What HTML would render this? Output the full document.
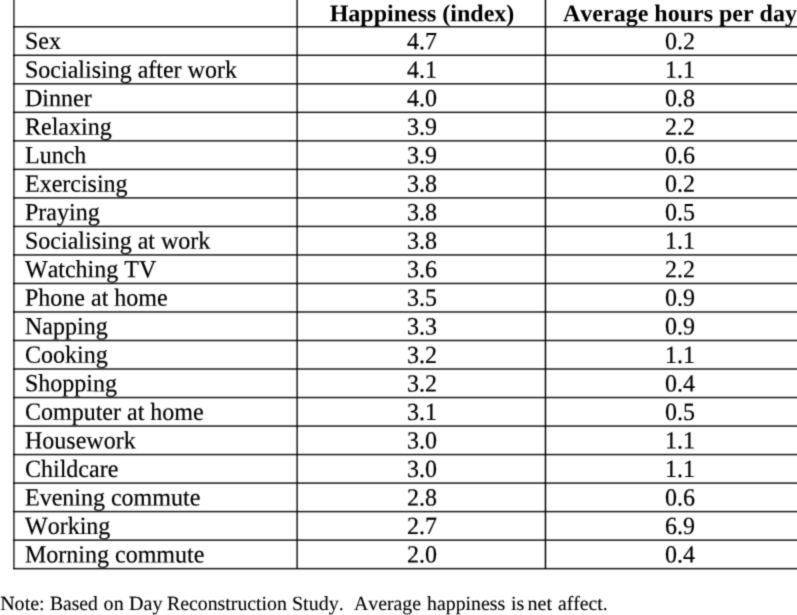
<!DOCTYPE html>
<html><head><meta charset="utf-8"><title>Happiness by activity</title><style>
html,body{margin:0;padding:0;background:#fff;}
body{width:797px;height:615px;overflow:hidden;position:relative;font-family:"Liberation Serif",serif;color:#000;text-rendering:geometricPrecision;font-kerning:none;font-feature-settings:"kern" 0,"liga" 0;}
#w{position:absolute;left:0;top:0;width:797px;height:615px;will-change:transform;background:#fff;filter:url(#sb);}
.l{position:absolute;}
.t{position:absolute;white-space:pre;font-size:24px;line-height:24px;transform-origin:0 0;-webkit-text-stroke:0.2px #000;}
.c{text-align:center;width:300px;}
.b{font-weight:bold;-webkit-text-stroke:0;}
.n{position:absolute;white-space:pre;font-size:20.07px;line-height:20.07px;-webkit-text-stroke:0.12px #000;}
</style></head><body><svg width="0" height="0" style="position:absolute"><defs><filter id="sb" x="0" y="0" width="100%" height="100%" color-interpolation-filters="sRGB"><feConvolveMatrix order="3" kernelMatrix="0.0249 0.1080 0.0249 0.1080 0.4686 0.1080 0.0249 0.1080 0.0249" divisor="1" edgeMode="duplicate"/></filter></defs></svg><div id="w">

<div class="l" style="left:13px;width:807px;top:26px;height:2px;background:linear-gradient(to bottom,rgba(0,0,0,0.883) 0px 1px,rgba(0,0,0,0.469) 1px 2px)"></div>
<div class="l" style="left:13px;width:807px;top:54px;height:3px;background:linear-gradient(to bottom,rgba(0,0,0,0.415) 0px 1px,rgba(0,0,0,0.900) 1px 2px,rgba(0,0,0,0.037) 2px 3px)"></div>
<div class="l" style="left:13px;width:807px;top:83px;height:2px;background:linear-gradient(to bottom,rgba(0,0,0,0.846) 0px 1px,rgba(0,0,0,0.505) 1px 2px)"></div>
<div class="l" style="left:13px;width:807px;top:111px;height:3px;background:linear-gradient(to bottom,rgba(0,0,0,0.378) 0px 1px,rgba(0,0,0,0.900) 1px 2px,rgba(0,0,0,0.073) 2px 3px)"></div>
<div class="l" style="left:13px;width:807px;top:140px;height:2px;background:linear-gradient(to bottom,rgba(0,0,0,0.811) 0px 1px,rgba(0,0,0,0.540) 1px 2px)"></div>
<div class="l" style="left:13px;width:807px;top:168px;height:3px;background:linear-gradient(to bottom,rgba(0,0,0,0.342) 0px 1px,rgba(0,0,0,0.900) 1px 2px,rgba(0,0,0,0.108) 2px 3px)"></div>
<div class="l" style="left:13px;width:807px;top:197px;height:2px;background:linear-gradient(to bottom,rgba(0,0,0,0.773) 0px 1px,rgba(0,0,0,0.577) 1px 2px)"></div>
<div class="l" style="left:13px;width:807px;top:225px;height:3px;background:linear-gradient(to bottom,rgba(0,0,0,0.307) 0px 1px,rgba(0,0,0,0.900) 1px 2px,rgba(0,0,0,0.145) 2px 3px)"></div>
<div class="l" style="left:13px;width:807px;top:254px;height:2px;background:linear-gradient(to bottom,rgba(0,0,0,0.738) 0px 1px,rgba(0,0,0,0.613) 1px 2px)"></div>
<div class="l" style="left:13px;width:807px;top:282px;height:3px;background:linear-gradient(to bottom,rgba(0,0,0,0.270) 0px 1px,rgba(0,0,0,0.900) 1px 2px,rgba(0,0,0,0.181) 2px 3px)"></div>
<div class="l" style="left:13px;width:807px;top:311px;height:2px;background:linear-gradient(to bottom,rgba(0,0,0,0.702) 0px 1px,rgba(0,0,0,0.648) 1px 2px)"></div>
<div class="l" style="left:13px;width:807px;top:339px;height:3px;background:linear-gradient(to bottom,rgba(0,0,0,0.234) 0px 1px,rgba(0,0,0,0.900) 1px 2px,rgba(0,0,0,0.216) 2px 3px)"></div>
<div class="l" style="left:13px;width:807px;top:368px;height:2px;background:linear-gradient(to bottom,rgba(0,0,0,0.666) 0px 1px,rgba(0,0,0,0.684) 1px 2px)"></div>
<div class="l" style="left:13px;width:807px;top:396px;height:3px;background:linear-gradient(to bottom,rgba(0,0,0,0.199) 0px 1px,rgba(0,0,0,0.900) 1px 2px,rgba(0,0,0,0.253) 2px 3px)"></div>
<div class="l" style="left:13px;width:807px;top:425px;height:2px;background:linear-gradient(to bottom,rgba(0,0,0,0.630) 0px 1px,rgba(0,0,0,0.719) 1px 2px)"></div>
<div class="l" style="left:13px;width:807px;top:453px;height:3px;background:linear-gradient(to bottom,rgba(0,0,0,0.162) 0px 1px,rgba(0,0,0,0.900) 1px 2px,rgba(0,0,0,0.289) 2px 3px)"></div>
<div class="l" style="left:13px;width:807px;top:482px;height:2px;background:linear-gradient(to bottom,rgba(0,0,0,0.593) 0px 1px,rgba(0,0,0,0.756) 1px 2px)"></div>
<div class="l" style="left:13px;width:807px;top:510px;height:3px;background:linear-gradient(to bottom,rgba(0,0,0,0.126) 0px 1px,rgba(0,0,0,0.900) 1px 2px,rgba(0,0,0,0.324) 2px 3px)"></div>
<div class="l" style="left:13px;width:807px;top:539px;height:2px;background:linear-gradient(to bottom,rgba(0,0,0,0.558) 0px 1px,rgba(0,0,0,0.792) 1px 2px)"></div>
<div class="l" style="left:13px;width:807px;top:567px;height:3px;background:linear-gradient(to bottom,rgba(0,0,0,0.091) 0px 1px,rgba(0,0,0,0.900) 1px 2px,rgba(0,0,0,0.361) 2px 3px)"></div>
<div class="l" style="top:-5px;height:574px;left:13px;width:2px;background:linear-gradient(to right,rgba(0,0,0,0.666) 0px 1px,rgba(0,0,0,0.585) 1px 2px)"></div>
<div class="l" style="top:-5px;height:574px;left:296px;width:2px;background:linear-gradient(to right,rgba(0,0,0,0.558) 0px 1px,rgba(0,0,0,0.792) 1px 2px)"></div>
<div class="l" style="top:-5px;height:574px;left:544px;width:3px;background:linear-gradient(to right,rgba(0,0,0,0.281) 0px 1px,rgba(0,0,0,1.000) 1px 2px,rgba(0,0,0,0.221) 2px 3px)"></div>
<div class="t b c" style="left:271.50px;top:2px;transform:translateY(0.200px) rotate(0.03deg)">Happiness (index)</div>
<div class="t b c" style="left:530.00px;top:2px;transform:translateY(0.200px) rotate(0.03deg)">Average hours per day</div>
<div class="t" style="left:24.70px;top:29px;transform:translateY(0.530px) rotate(0.03deg) scaleY(1.030)">Sex</div>
<div class="t c" style="left:271.50px;top:29px;transform:translateY(0.530px) rotate(0.03deg) scaleY(1.030)">4.7</div>
<div class="t c" style="left:530.00px;top:29px;transform:translateY(0.530px) rotate(0.03deg) scaleY(1.030)">0.2</div>
<div class="t" style="left:24.70px;top:58px;transform:translateY(0.050px) rotate(0.03deg) scaleY(1.030)">Socialising after work</div>
<div class="t c" style="left:271.50px;top:58px;transform:translateY(0.050px) rotate(0.03deg) scaleY(1.030)">4.1</div>
<div class="t c" style="left:530.00px;top:58px;transform:translateY(0.050px) rotate(0.03deg) scaleY(1.030)">1.1</div>
<div class="t" style="left:24.70px;top:86px;transform:translateY(0.570px) rotate(0.03deg) scaleY(1.030)">Dinner</div>
<div class="t c" style="left:271.50px;top:86px;transform:translateY(0.570px) rotate(0.03deg) scaleY(1.030)">4.0</div>
<div class="t c" style="left:530.00px;top:86px;transform:translateY(0.570px) rotate(0.03deg) scaleY(1.030)">0.8</div>
<div class="t" style="left:24.70px;top:115px;transform:translateY(0.090px) rotate(0.03deg) scaleY(1.030)">Relaxing</div>
<div class="t c" style="left:271.50px;top:115px;transform:translateY(0.090px) rotate(0.03deg) scaleY(1.030)">3.9</div>
<div class="t c" style="left:530.00px;top:115px;transform:translateY(0.090px) rotate(0.03deg) scaleY(1.030)">2.2</div>
<div class="t" style="left:24.70px;top:143px;transform:translateY(0.610px) rotate(0.03deg) scaleY(1.030)">Lunch</div>
<div class="t c" style="left:271.50px;top:143px;transform:translateY(0.610px) rotate(0.03deg) scaleY(1.030)">3.9</div>
<div class="t c" style="left:530.00px;top:143px;transform:translateY(0.610px) rotate(0.03deg) scaleY(1.030)">0.6</div>
<div class="t" style="left:24.70px;top:172px;transform:translateY(0.130px) rotate(0.03deg) scaleY(1.030)">Exercising</div>
<div class="t c" style="left:271.50px;top:172px;transform:translateY(0.130px) rotate(0.03deg) scaleY(1.030)">3.8</div>
<div class="t c" style="left:530.00px;top:172px;transform:translateY(0.130px) rotate(0.03deg) scaleY(1.030)">0.2</div>
<div class="t" style="left:24.70px;top:200px;transform:translateY(0.650px) rotate(0.03deg) scaleY(1.030)">Praying</div>
<div class="t c" style="left:271.50px;top:200px;transform:translateY(0.650px) rotate(0.03deg) scaleY(1.030)">3.8</div>
<div class="t c" style="left:530.00px;top:200px;transform:translateY(0.650px) rotate(0.03deg) scaleY(1.030)">0.5</div>
<div class="t" style="left:24.70px;top:229px;transform:translateY(0.170px) rotate(0.03deg) scaleY(1.030)">Socialising at work</div>
<div class="t c" style="left:271.50px;top:229px;transform:translateY(0.170px) rotate(0.03deg) scaleY(1.030)">3.8</div>
<div class="t c" style="left:530.00px;top:229px;transform:translateY(0.170px) rotate(0.03deg) scaleY(1.030)">1.1</div>
<div class="t" style="left:24.70px;top:257px;transform:translateY(0.690px) rotate(0.03deg) scaleY(1.030)">Watching TV</div>
<div class="t c" style="left:271.50px;top:257px;transform:translateY(0.690px) rotate(0.03deg) scaleY(1.030)">3.6</div>
<div class="t c" style="left:530.00px;top:257px;transform:translateY(0.690px) rotate(0.03deg) scaleY(1.030)">2.2</div>
<div class="t" style="left:24.70px;top:286px;transform:translateY(0.210px) rotate(0.03deg) scaleY(1.030)">Phone at home</div>
<div class="t c" style="left:271.50px;top:286px;transform:translateY(0.210px) rotate(0.03deg) scaleY(1.030)">3.5</div>
<div class="t c" style="left:530.00px;top:286px;transform:translateY(0.210px) rotate(0.03deg) scaleY(1.030)">0.9</div>
<div class="t" style="left:24.70px;top:314px;transform:translateY(0.730px) rotate(0.03deg) scaleY(1.030)">Napping</div>
<div class="t c" style="left:271.50px;top:314px;transform:translateY(0.730px) rotate(0.03deg) scaleY(1.030)">3.3</div>
<div class="t c" style="left:530.00px;top:314px;transform:translateY(0.730px) rotate(0.03deg) scaleY(1.030)">0.9</div>
<div class="t" style="left:24.70px;top:343px;transform:translateY(0.250px) rotate(0.03deg) scaleY(1.030)">Cooking</div>
<div class="t c" style="left:271.50px;top:343px;transform:translateY(0.250px) rotate(0.03deg) scaleY(1.030)">3.2</div>
<div class="t c" style="left:530.00px;top:343px;transform:translateY(0.250px) rotate(0.03deg) scaleY(1.030)">1.1</div>
<div class="t" style="left:24.70px;top:371px;transform:translateY(0.770px) rotate(0.03deg) scaleY(1.030)">Shopping</div>
<div class="t c" style="left:271.50px;top:371px;transform:translateY(0.770px) rotate(0.03deg) scaleY(1.030)">3.2</div>
<div class="t c" style="left:530.00px;top:371px;transform:translateY(0.770px) rotate(0.03deg) scaleY(1.030)">0.4</div>
<div class="t" style="left:24.70px;top:400px;transform:translateY(0.290px) rotate(0.03deg) scaleY(1.030)">Computer at home</div>
<div class="t c" style="left:271.50px;top:400px;transform:translateY(0.290px) rotate(0.03deg) scaleY(1.030)">3.1</div>
<div class="t c" style="left:530.00px;top:400px;transform:translateY(0.290px) rotate(0.03deg) scaleY(1.030)">0.5</div>
<div class="t" style="left:24.70px;top:428px;transform:translateY(0.810px) rotate(0.03deg) scaleY(1.030)">Housework</div>
<div class="t c" style="left:271.50px;top:428px;transform:translateY(0.810px) rotate(0.03deg) scaleY(1.030)">3.0</div>
<div class="t c" style="left:530.00px;top:428px;transform:translateY(0.810px) rotate(0.03deg) scaleY(1.030)">1.1</div>
<div class="t" style="left:24.70px;top:457px;transform:translateY(0.330px) rotate(0.03deg) scaleY(1.030)">Childcare</div>
<div class="t c" style="left:271.50px;top:457px;transform:translateY(0.330px) rotate(0.03deg) scaleY(1.030)">3.0</div>
<div class="t c" style="left:530.00px;top:457px;transform:translateY(0.330px) rotate(0.03deg) scaleY(1.030)">1.1</div>
<div class="t" style="left:24.70px;top:485px;transform:translateY(0.850px) rotate(0.03deg) scaleY(1.030)">Evening commute</div>
<div class="t c" style="left:271.50px;top:485px;transform:translateY(0.850px) rotate(0.03deg) scaleY(1.030)">2.8</div>
<div class="t c" style="left:530.00px;top:485px;transform:translateY(0.850px) rotate(0.03deg) scaleY(1.030)">0.6</div>
<div class="t" style="left:24.70px;top:514px;transform:translateY(0.370px) rotate(0.03deg) scaleY(1.030)">Working</div>
<div class="t c" style="left:271.50px;top:514px;transform:translateY(0.370px) rotate(0.03deg) scaleY(1.030)">2.7</div>
<div class="t c" style="left:530.00px;top:514px;transform:translateY(0.370px) rotate(0.03deg) scaleY(1.030)">6.9</div>
<div class="t" style="left:24.70px;top:542px;transform:translateY(0.890px) rotate(0.03deg) scaleY(1.030)">Morning commute</div>
<div class="t c" style="left:271.50px;top:542px;transform:translateY(0.890px) rotate(0.03deg) scaleY(1.030)">2.0</div>
<div class="t c" style="left:530.00px;top:542px;transform:translateY(0.890px) rotate(0.03deg) scaleY(1.030)">0.4</div>
<div class="n" style="left:0.14px;top:593.79px">Note:</div>
<div class="n" style="left:49.90px;top:593.79px;transform:scaleX(0.9760);transform-origin:0 0">Based</div>
<div class="n" style="left:103.60px;top:593.79px">on</div>
<div class="n" style="left:129.10px;top:593.79px">Day</div>
<div class="n" style="left:166.58px;top:593.79px;transform:scaleX(0.9871);transform-origin:0 0">Reconstruction</div>
<div class="n" style="left:291.97px;top:593.79px;transform:scaleX(0.9963);transform-origin:0 0">Study.</div>
<div class="n" style="left:353.97px;top:593.79px;transform:scaleX(0.9848);transform-origin:0 0">Average</div>
<div class="n" style="left:426.64px;top:593.79px;transform:scaleX(0.9886);transform-origin:0 0">happiness</div>
<div class="n" style="left:510.90px;top:593.79px">is</div>
<div class="n" style="left:527.48px;top:593.79px">net</div>
<div class="n" style="left:558.07px;top:593.79px;transform:scaleX(0.9796);transform-origin:0 0">affect.</div>
</div></body></html>
